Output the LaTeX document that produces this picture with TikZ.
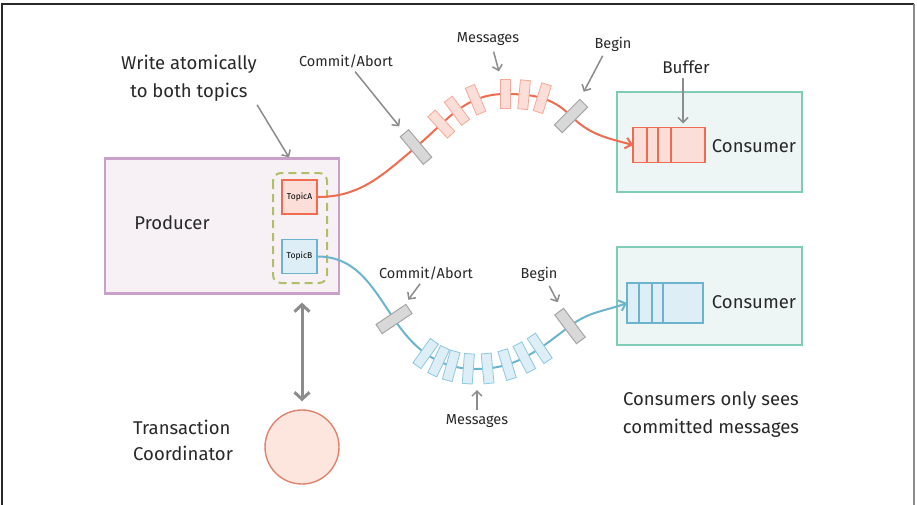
\documentclass[tikz,border=0pt]{standalone}
\usepackage{fontspec}
\setmainfont{Fira Sans}
\usetikzlibrary{arrows.meta,positioning,calc}
\definecolor{ink}{RGB}{40,40,40}
\definecolor{tred}{RGB}{240,108,80}
\definecolor{tredfill}{RGB}{251,222,216}
\definecolor{msgred}{RGB}{246,168,152}
\definecolor{tblue}{RGB}{108,180,206}
\definecolor{tbluefill}{RGB}{221,238,246}
\definecolor{msgblue}{RGB}{140,200,222}
\definecolor{prodedge}{RGB}{200,160,200}
\definecolor{prodfill}{RGB}{247,241,246}
\definecolor{consedge}{RGB}{128,202,182}
\definecolor{consfill}{RGB}{238,246,245}
\definecolor{grpgreen}{RGB}{176,190,106}
\definecolor{bargrey}{RGB}{216,216,216}
\definecolor{baredge}{RGB}{165,165,165}
\definecolor{ptrgrey}{RGB}{140,140,140}
\definecolor{tcedge}{RGB}{226,130,110}
\definecolor{tcfill}{RGB}{252,230,222}

\begin{document}
\begin{tikzpicture}[x=1pt,y=-1pt,
  biglbl/.style={font=\fontsize{18.5}{28}\selectfont,text=ink,inner sep=0pt},
  smlbl/.style={font=\fontsize{14.5}{17}\selectfont,text=ink,inner sep=0pt},
  box/.style={rectangle,line width=2.2pt},
  topicbox/.style={rectangle,line width=1.4pt,minimum width=35pt,minimum height=34pt,
    font=\fontsize{8.5}{10}\selectfont,inner sep=0pt},
  cellA/.style={rectangle,draw=tred,fill=tredfill,line width=1.4pt,minimum height=35pt,outer sep=0pt},
  cellB/.style={rectangle,draw=tblue,fill=tbluefill,line width=1.4pt,minimum height=40pt,outer sep=0pt},
  barbox/.style={rectangle,draw=baredge,fill=bargrey,line width=1pt,minimum width=11pt,minimum height=36pt},
  msgA/.style={rectangle,sloped,draw=msgred,fill=tredfill,line width=0.8pt,minimum width=10pt,minimum height=29pt,inner sep=0pt},
  msgB/.style={rectangle,sloped,draw=msgblue,fill=tbluefill,line width=0.8pt,minimum width=10pt,minimum height=30pt,inner sep=0pt},
  ptr/.style={draw=ptrgrey,line width=1.5pt,-{Straight Barb[length=5pt,width=10pt]}},
  flow/.style={line width=2pt,-{Straight Barb[length=6pt,width=11pt]}}]
  \useasboundingbox[fill=white] (0,0) rectangle (917,504);
  \draw[ink,line width=1.5pt] (2,506) -- (2,4) -- (914,4);
  \draw[ptrgrey,line width=2pt] (914,4) -- (914,506);

  % producer side
  \node[box,draw=prodedge,fill=prodfill,minimum width=234pt,minimum height=135pt] (prod) at (222,226) {};
  \node[biglbl] (prodlbl) at (172,223) {Producer};
  \draw[grpgreen,line width=2pt,dash pattern=on 8pt off 5pt,rounded corners=8pt] (273,173) rectangle (327,283);
  \node[topicbox,draw=tred,fill=tredfill] (topA) at (299.5,197) {TopicA};
  \node[topicbox,draw=tblue,fill=tbluefill] (topB) at (299.5,256.5) {TopicB};

  % consumers
  \node[box,draw=consedge,fill=consfill,minimum width=185pt,minimum height=100pt] (consA) at (709.5,142) {};
  \node[box,draw=consedge,fill=consfill,minimum width=185pt,minimum height=98pt] (consB) at (709.5,296) {};
  \node[cellA,minimum width=14pt,anchor=west] (a1) at (633,145) {};
  \node[cellA,minimum width=11pt,right=0pt of a1] (a2) {};
  \node[cellA,minimum width=13pt,right=0pt of a2] (a3) {};
  \node[cellA,minimum width=34pt,right=0pt of a3] (a4) {};
  \node[cellB,minimum width=12pt,anchor=west] (b1) at (627,303) {};
  \node[cellB,minimum width=13pt,right=0pt of b1] (b2) {};
  \node[cellB,minimum width=11pt,right=0pt of b2] (b3) {};
  \node[cellB,minimum width=40pt,right=0pt of b3] (b4) {};
  \node[biglbl] (consAlbl) at (754,146) {Consumer};
  \node[biglbl] (consBlbl) at (754,302) {Consumer};

  % transaction coordinator
  \node[circle,draw=tcedge,fill=tcfill,line width=1.4pt,minimum size=74pt] (tc) at (302,447) {};
  \node[biglbl,align=left,anchor=west,font=\fontsize{18.5}{26}\selectfont] (tclbl) at (133,440) {Transaction\\Coordinator};
  \draw[ptrgrey,line width=3pt,{Straight Barb[length=7pt,width=15pt]}-{Straight Barb[length=7pt,width=15pt]},
    shorten <=8pt,shorten >=8pt] (tc.north) -- (tc.north |- prod.south);

  % transaction markers on both lines
  \coordinate (cA) at (416,147);
  \coordinate (pkA) at (505,94);
  \coordinate (gA) at (571,116);
  \coordinate (cB) at (394,319);
  \coordinate (pkB) at (476,369);
  \coordinate (gB) at (570,326);

  \draw[flow,tred] (topA.east) to[out=0,in=220] (cA)
    to[out=40,in=180] node[msgA,pos=0.3]{} node[msgA,pos=0.5]{} node[msgA,pos=0.72]{} (pkA)
    to[out=0,in=135] node[msgA,pos=0] (mA4) {} node[msgA,pos=0.25]{} node[msgA,pos=0.52]{} (gA)
    to[out=-45,in=165] (a1.west);
  \draw[flow,tblue] (topB.east) to[out=0,in=124] (cB)
    to[out=-56,in=180] node[msgB,pos=0.46]{} node[msgB,pos=0.62]{} node[msgB,pos=0.76]{} node[msgB,pos=0.93]{} (pkB)
    to[out=0,in=217] node[msgB,pos=0.1]{} node[msgB,pos=0.29]{} node[msgB,pos=0.48]{} node[msgB,pos=0.66]{} (gB)
    to[out=37,in=200] (b1.west);

  \node[barbox,rotate=40] (cmtA) at (cA) {};
  \node[barbox,rotate=-45] (bgnA) at (gA) {};
  \node[barbox,rotate=-56] (cmtB) at (cB) {};
  \node[barbox,rotate=37] (bgnB) at (gB) {};

  % labels and pointers
  \node[biglbl,align=center] (wlbl) at (189,78) {Write atomically\\to both topics};
  \node[smlbl] (cmtAlbl) at (346,61) {Commit/Abort};
  \node[smlbl] (msgAlbl) at (488,39) {Messages};
  \node[smlbl] (bgnAlbl) at (613,44) {Begin};
  \node[biglbl,font=\fontsize{17}{20}\selectfont] (buflbl) at (686,67) {Buffer};
  \node[smlbl] (cmtBlbl) at (426,273) {Commit/Abort};
  \node[smlbl] (bgnBlbl) at (539,274) {Begin};
  \node[smlbl] (msgBlbl) at (477,421) {Messages};
  \node[biglbl,align=center] (seelbl) at (711,415) {Consumers only sees\\committed messages};

  \draw[ptr,shorten <=4pt] ([xshift=66pt]wlbl.south) -- (prod.north -| 289,0);
  \draw[ptr,shorten <=5pt,shorten >=8pt] ([xshift=6pt]cmtAlbl.south) -- (cmtA);
  \draw[ptr,shorten <=6pt,shorten >=8pt] ([xshift=4pt]msgAlbl.south) -- (mA4);
  \draw[ptr,shorten <=5pt,shorten >=8pt] ([xshift=-8pt]bgnAlbl.south) -- (bgnA);
  \draw[ptr,shorten <=4pt,shorten >=4pt] ([xshift=-3pt]buflbl.south) -- ([xshift=-3pt]buflbl.south |- a4.north);
  \draw[ptr,shorten <=5pt,shorten >=6pt] ([xshift=-3pt]cmtBlbl.south) -- (cmtB);
  \draw[ptr,shorten <=5pt,shorten >=8pt] ([xshift=8pt]bgnBlbl.south) -- (bgnB);
  \draw[ptr,shorten <=4pt,shorten >=21pt] (msgBlbl.north) -- (msgBlbl.north |- pkB);
\end{tikzpicture}
\end{document}
